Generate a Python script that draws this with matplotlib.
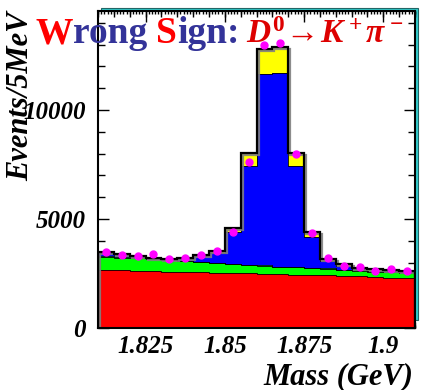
import numpy as np
import matplotlib
matplotlib.use("Agg")
import matplotlib.pyplot as plt
import matplotlib.patheffects as pe
from matplotlib.patches import Rectangle
from matplotlib.ticker import MultipleLocator

plt.rcParams["font.family"] = ["Liberation Serif", "DejaVu Serif"]
plt.rcParams["mathtext.fontset"] = "custom"
plt.rcParams["mathtext.rm"] = "Liberation Serif:bold"
plt.rcParams["mathtext.it"] = "Liberation Serif:italic:bold"
plt.rcParams["mathtext.bf"] = "Liberation Serif:bold"

# ---------------------------------------------------------------------
# DATA, 20 bins of 5 MeV from 1.81 to 1.91 GeV
# ---------------------------------------------------------------------
edges = np.linspace(1.81, 1.91, 21)
red    = [2660, 2645, 2625, 2610, 2590, 2570, 2550, 2535, 2520, 2505,
          2490, 2470, 2450, 2430, 2410, 2390, 2370, 2340, 2310, 2280]
green  = [610, 580, 570, 540, 530, 505, 460, 430, 400, 385,
          370, 340, 330, 305, 310, 270, 260, 245, 245, 260]
cyan   = [40, 45, 40, 30, 20, 15, 10, 10, 10, 10,
          10, 10, 10, 10, 10, 10, 10, 10, 10, 10]
blue   = [120, 60, 45, 5, 20, 95, 260, 445, 1460, 4530,
          8780, 8880, 4640, 1445, 365, 190, 75, 35, 35, 5]
yellow = [70, 50, 40, 40, 25, 40, 50, 110, 180, 584,
          1130, 1170, 584, 200, 80, 60, 50, 60, 60, 60]
points = [3470, 3350, 3320, 3380, 3165, 3195, 3350, 3530, 4420, 7630,
          12980, 13090, 7970, 4340, 3225, 2840, 2780, 2630, 2690, 2630]

layers = [(red, "#ff0000"), (green, "#00ff00"), (cyan, "#00ffff"),
          (blue, "#0000ff"), (yellow, "#ffff00")]

W, H = 423, 390
fig = plt.figure(figsize=(W / 100, H / 100), dpi=100)
fig.patch.set_facecolor("white")

L, R, T, B = 98, 415, 11, 328
ax = fig.add_axes([L / W, 1 - B / H, (R - L) / W, (B - T) / H])
ax.set_facecolor("white")
ax.set_zorder(2)

# cyan 3D frame behind the axes
fig.patches.append(Rectangle(((L + 3) / W, 1 - (B - 8) / H), (R - L) / W, (B - T - 5) / H,
                             transform=fig.transFigure, facecolor="#33cccc",
                             edgecolor="#226666", lw=0.8, zorder=1))

# stacked histogram
base = np.zeros(len(red))
for vals, col in layers:
    top = base + np.array(vals)
    ax.stairs(top, edges, baseline=base, fill=True, color=col, lw=0, zorder=2)
    ax.stairs(top, edges, color="black", lw=0.6, zorder=3)
    base = top

ax.stairs(base, edges, color="black", lw=1.6, zorder=4,
          path_effects=[pe.SimpleLineShadow(offset=(1.5, -1.5), shadow_color="gray", alpha=0.9),
                        pe.Normal()])

centers = 0.5 * (edges[:-1] + edges[1:])
ax.plot(centers, points, "o", color="#ff00ff", ms=5, mec="#ff00ff", zorder=5)

ax.set_xlim(1.81, 1.91)
ax.set_ylim(0, 14540)

ax.xaxis.set_minor_locator(MultipleLocator(0.001))
ax.yaxis.set_minor_locator(MultipleLocator(1000))
ax.set_xticks([1.825, 1.85, 1.875, 1.9])
ax.set_xticklabels(["1.825", "1.85", "1.875", "1.9"])
ax.set_yticks([0, 5000, 10000])
ax.set_yticklabels(["0", "5000", "10000"])
ax.tick_params(which="both", direction="in", top=True, right=True, width=1.0)
ax.tick_params(which="major", length=8, labelsize=18)
ax.tick_params(axis="x", which="major", pad=5)
ax.tick_params(axis="y", which="major", pad=9)
ax.tick_params(axis="x", which="minor", length=2.5)
ax.tick_params(axis="y", which="minor", length=5)
for lab in ax.get_xticklabels() + ax.get_yticklabels():
    lab.set_fontweight("bold")
    lab.set_fontstyle("italic")
for sp in ax.spines.values():
    sp.set_linewidth(1.5)
    sp.set_zorder(6)

# medium ticks every 5 MeV, top and bottom
for side in ("bottom", "top"):
    sec = ax.secondary_xaxis(side)
    sec.xaxis.set_major_locator(MultipleLocator(0.005))
    sec.tick_params(direction="in", length=4, width=1.0, labelbottom=False, labeltop=False)
    sec.spines[side].set_visible(False)

fig.text(413 / W, 1 - 384 / H, "Mass (GeV)", ha="right", va="baseline",
         fontsize=22, fontweight="bold", fontstyle="italic")
fig.text(21 / W, 1 - 96 / H, "Events/5MeV", ha="center", va="center", rotation=90,
         fontsize=22, fontweight="bold", fontstyle="italic")

# multi-coloured title
pieces = [("W", "#ff0000", 0), ("rong", "#333399", 9), ("S", "#ff0000", 0),
          ("ign:", "#333399", 7), (r"$D^0\!\rightarrow\!K^+\pi^-$", "#dd0000", 0)]
sizes = [27, 27, 27, 27, 24]
x = 35
renderer = fig.canvas.get_renderer()
for (txt, col, gap), fs in zip(pieces, sizes):
    t = fig.text(x / W, 1 - 43 / H, txt, color=col, fontsize=fs, fontweight="bold",
                 va="baseline", ha="left", zorder=10)
    bb = t.get_window_extent(renderer=renderer)
    x = bb.x1 + gap

fig.savefig("out.png", dpi=100)
